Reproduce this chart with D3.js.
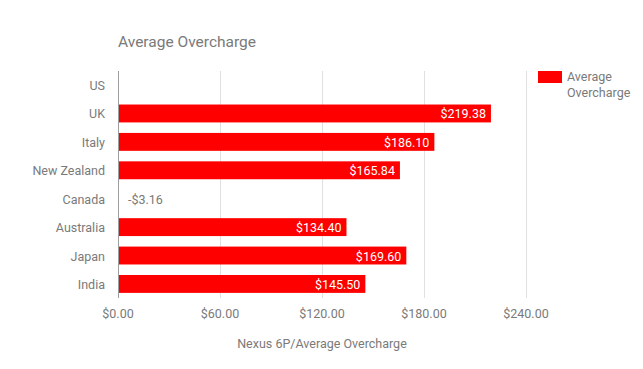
<!DOCTYPE html>
<html>
<head>
<meta charset="utf-8">
<script src="https://d3js.org/d3.v7.min.js"></script>
<style>
body { margin: 0; background: #fff; }
text { font-family: Roboto, Arial, sans-serif; }
.grid line { stroke: #e0e0e0; shape-rendering: crispEdges; }
.grid path { stroke-width: 0; }
</style>
</head>
<body>
<script>
var countries = ["US", "UK", "Italy", "New Zealand", "Canada", "Australia", "Japan", "India"];
var overcharge = [null, 219.38, 186.10, 165.84, -3.16, 134.40, 169.60, 145.50];
var ticks = [0, 60, 120, 180, 240];

var W = 643, H = 369;
var margin = {top: 71, right: 117, bottom: 71, left: 118};
var grey = "#7a7a7a";

var svg = d3.select("body").append("svg")
    .attr("width", W)
    .attr("height", H);

var x = d3.scaleLinear().domain([0, 240]).range([margin.left, W - margin.right]).clamp(true);
var y = d3.scaleBand().domain(countries).range([margin.top, H - margin.bottom]).paddingInner(0.37).paddingOuter(0.18);

var fmt = function(v) { return (v < 0 ? "-$" : "$") + Math.abs(v).toFixed(2); };

// gridlines
svg.append("g")
    .attr("class", "grid")
    .attr("transform", "translate(0," + (H - margin.bottom) + ")")
    .call(d3.axisBottom(x).tickValues(ticks.slice(1)).tickSize(-(H - margin.top - margin.bottom)).tickFormat(""));

// tick labels
svg.selectAll(".xlab").data(ticks).enter().append("text")
    .attr("x", function(d) { return x(d); })
    .attr("y", H - margin.bottom + 20)
    .attr("text-anchor", "middle")
    .attr("font-size", "12.5px")
    .attr("fill", grey)
    .text(function(d) { return fmt(d); });

// bars
var data = countries.map(function(c, i) { return {c: c, v: overcharge[i]}; });

svg.selectAll(".bar").data(data.filter(function(d) { return d.v !== null; })).enter().append("rect")
    .attr("x", function(d) { return x(Math.min(0, d.v)); })
    .attr("y", function(d) { return y(d.c); })
    .attr("width", function(d) { return Math.abs(x(d.v) - x(0)); })
    .attr("height", y.bandwidth())
    .attr("fill", "#ff0000");

// value labels
svg.selectAll(".val").data(data.filter(function(d) { return d.v !== null; })).enter().append("text")
    .attr("x", function(d) { return d.v > 0 ? x(d.v) - 5 : x(0) + 10; })
    .attr("y", function(d) { return y(d.c) + y.bandwidth() / 2 + 5; })
    .attr("text-anchor", function(d) { return d.v > 0 ? "end" : "start"; })
    .attr("font-size", "12.5px")
    .attr("fill", function(d) { return d.v > 0 ? "#fff" : grey; })
    .text(function(d) { return fmt(d.v); });

// zero axis line
svg.append("line")
    .attr("x1", x(0)).attr("x2", x(0))
    .attr("y1", margin.top).attr("y2", H - margin.bottom)
    .attr("stroke", "#9e9e9e")
    .attr("shape-rendering", "crispEdges");

// category labels
svg.selectAll(".ylab").data(countries).enter().append("text")
    .attr("x", margin.left - 13)
    .attr("y", function(d) { return y(d) + y.bandwidth() / 2 + 5; })
    .attr("text-anchor", "end")
    .attr("font-size", "12.5px")
    .attr("fill", grey)
    .text(function(d) { return d; });

// title
svg.append("text")
    .attr("x", margin.left).attr("y", 47)
    .attr("font-size", "15.5px")
    .attr("fill", grey)
    .text("Average Overcharge");

// x axis title
svg.append("text")
    .attr("x", (x(0) + x(240)) / 2).attr("y", 348)
    .attr("text-anchor", "middle")
    .attr("font-size", "12.5px")
    .attr("fill", grey)
    .text("Nexus 6P/Average Overcharge");

// legend
var lg = svg.append("g").attr("transform", "translate(538,71)");
lg.append("rect").attr("width", 24).attr("height", 12).attr("fill", "#ff0000");
lg.append("text").attr("x", 29).attr("y", 10).attr("font-size", "12.5px").attr("fill", grey).text("Average");
lg.append("text").attr("x", 29).attr("y", 26).attr("font-size", "12.5px").attr("fill", grey).text("Overcharge");
</script>
</body>
</html>
